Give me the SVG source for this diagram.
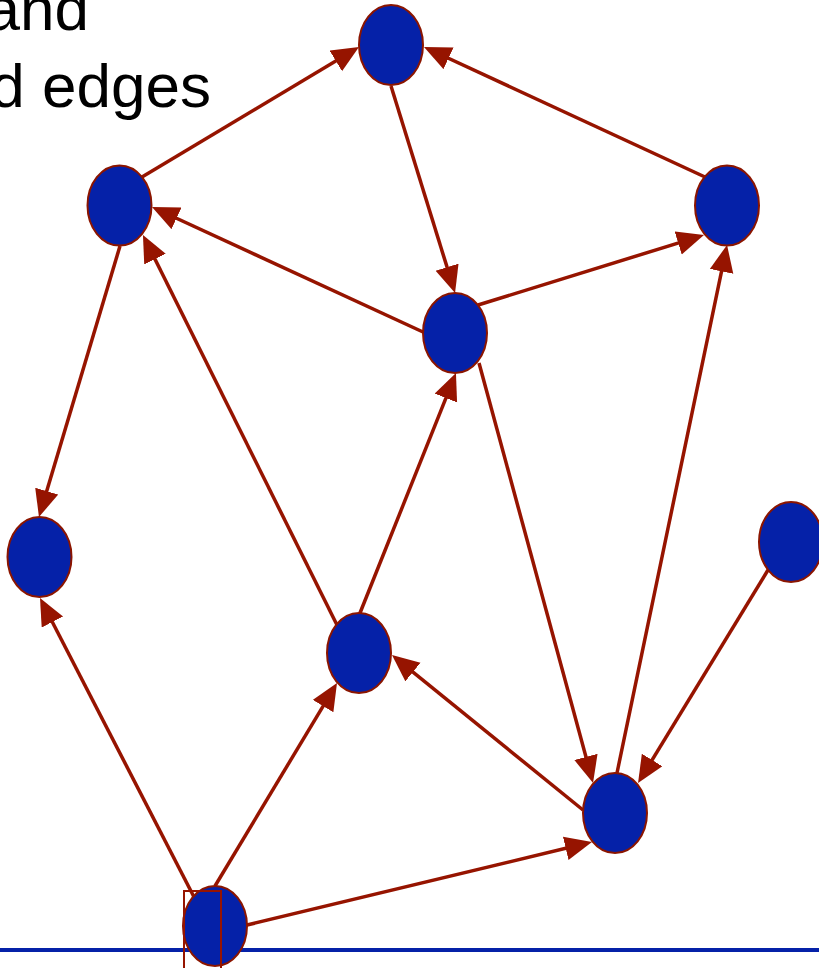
<svg xmlns="http://www.w3.org/2000/svg" width="819" height="968" viewBox="0 0 819 968">
<style>
.lbl{font-family:"Liberation Sans",Arial,sans-serif;font-size:62px;fill:#000}
.node{fill:#0521A8;stroke:#8B1500;stroke-width:2}
.edge{stroke:#961400;stroke-width:3.5;fill:none;marker-end:url(#arr)}
</style>
<defs>
<marker id="arr" markerUnits="userSpaceOnUse" markerWidth="30" markerHeight="26" refX="15" refY="12" orient="auto">
<path d="M0,0 L27,12 L0,24 z" fill="#961400"/>
</marker>
</defs>
<rect width="819" height="968" fill="#fff"/>
<text class="lbl" x="89" y="30" text-anchor="end">and</text>
<text class="lbl" x="211" y="107" text-anchor="end">d edges</text>
<line x1="0" y1="950" x2="819" y2="950" stroke="#0521A8" stroke-width="4"/>
<g id="connectors">
<line class="edge" x1="142" y1="177" x2="348.7" y2="53.2"/>
<line class="edge" x1="705" y1="177" x2="434.9" y2="52"/>
<line class="edge" x1="391" y1="86" x2="451.5" y2="281.5"/>
<line class="edge" x1="423" y1="332" x2="162.9" y2="212"/>
<line class="edge" x1="478" y1="305" x2="692.5" y2="238.6"/>
<line class="edge" x1="120" y1="246" x2="42.4" y2="505.5"/>
<line class="edge" x1="337" y1="625" x2="148.3" y2="245.7"/>
<line class="edge" x1="360" y1="613" x2="451.5" y2="384.1"/>
<line class="edge" x1="479" y1="363" x2="589.9" y2="771.4"/>
<line class="edge" x1="617" y1="773" x2="724.6" y2="256.7"/>
<line class="edge" x1="768" y1="570" x2="644.3" y2="772.8"/>
<line class="edge" x1="583" y1="810" x2="401.3" y2="662.6"/>
<line class="edge" x1="194" y1="897" x2="45.5" y2="608.7"/>
<line class="edge" x1="215" y1="886" x2="330.8" y2="693.3"/>
<line class="edge" x1="247" y1="925" x2="580.3" y2="844.8"/>
</g>
<g id="nA"><ellipse class="node" cx="391" cy="45" rx="32" ry="40"/></g>
<g id="nB"><ellipse class="node" cx="119.5" cy="205.5" rx="32" ry="40"/></g>
<g id="nC"><ellipse class="node" cx="727" cy="205.5" rx="32" ry="40"/></g>
<g id="nD"><ellipse class="node" cx="455" cy="333" rx="32" ry="40"/></g>
<g id="nE"><ellipse class="node" cx="39.5" cy="557" rx="32" ry="40"/></g>
<g id="nF"><ellipse class="node" cx="791" cy="542" rx="32" ry="40"/></g>
<g id="nG"><ellipse class="node" cx="359" cy="653" rx="32" ry="40"/></g>
<g id="nH"><ellipse class="node" cx="615" cy="813" rx="32" ry="40"/></g>
<g id="nI"><ellipse class="node" cx="215" cy="926" rx="32" ry="40"/>
<rect x="184" y="891" width="37" height="80" fill="none" stroke="#961400" stroke-width="2"/></g>
</svg>
